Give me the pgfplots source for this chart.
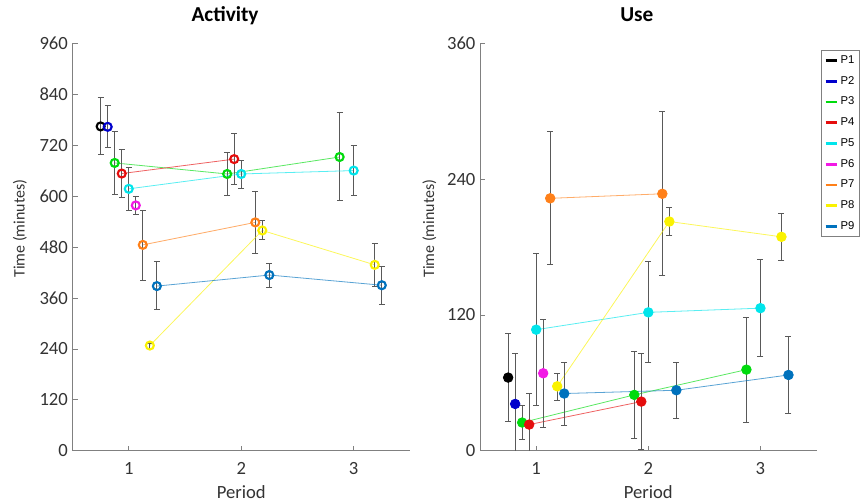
\documentclass[border=0pt]{standalone}
\usepackage{fontspec}
\setmainfont{Carlito}
\newfontfamily\legfont{Liberation Sans}
\usepackage{pgfplots}
\pgfplotsset{compat=1.18}
\definecolor{cP1}{rgb}{0,0,0}
\definecolor{cP2}{rgb}{0,0,0.8}
\definecolor{cP3}{rgb}{0,0.86,0.05}
\definecolor{cP4}{rgb}{0.9,0.05,0.05}
\definecolor{cP5}{rgb}{0,0.9,0.92}
\definecolor{cP6}{rgb}{0.95,0.1,0.9}
\definecolor{cP7}{rgb}{1,0.5,0.1}
\definecolor{cP8}{rgb}{0.98,0.95,0}
\definecolor{cP9}{rgb}{0,0.447,0.741}
\definecolor{axgray}{rgb}{0.5,0.5,0.5}
\definecolor{tkgray}{rgb}{0.2,0.2,0.2}
\definecolor{errgray}{rgb}{0.35,0.35,0.35}
\pgfplotsset{
  panel/.style={
    scale only axis, width=253.5pt, height=306.3pt,
    anchor=south west,
    xmin=0.5, xmax=3.5, ymin=0,
    xtick={1,2,3},
    axis x line*=bottom, axis y line*=left,
    axis line style={draw=axgray, line width=0.6pt, -},
    tick style={draw=axgray, line width=0.6pt},
    major tick length=4pt, tick align=inside,
    ticklabel style={text=tkgray, font=\fontsize{14}{16}\selectfont},
    /pgf/number format/assume math mode=true,
    xticklabel style={anchor=base, yshift=-17.5pt},
    xlabel={Period},
    xlabel style={at={(axis description cs:0.5,-0.116)}, anchor=base, text=tkgray, font=\fontsize{14}{16}\selectfont},
    ylabel={Time (minutes)},
    ylabel style={text=tkgray, font=\fontsize{12}{14}\selectfont},
    title style={font=\fontsize{16}{18}\selectfont\bfseries, anchor=base},
    clip=true,
  },
  ser/.style={color=#1, line width=0.6pt, draw opacity=0.65,
    error bars/.cd, y dir=both, y explicit,
    error bar style={draw=errgray, line width=0.6pt, draw opacity=1},
    error mark options={rotate=90, mark size=2.25pt, draw=errgray, line width=0.6pt, draw opacity=1},
    /pgfplots/.cd},
  open/.style={mark=o, mark size=3pt, mark options={solid, line width=1.6pt, draw opacity=1, draw=#1}},
  full/.style={mark=*, mark size=3.6pt, mark options={solid, draw=#1, fill=#1, draw opacity=1}},
}
\begin{document}
\begin{tikzpicture}
\path (0pt,0pt) rectangle (645pt,375.75pt);
% ---------------- Activity ----------------
\begin{axis}[panel, at={(54.5pt,37pt)},
  ymax=960, ytick={0,120,240,360,480,600,720,840,960},
  title={Activity}, title style={at={(axis description cs:0.452,1.0326)}},
  ylabel style={at={(axis description cs:-0.156,0.545)}, anchor=center},
]
\addplot[ser=cP1, open=cP1] coordinates {(0.75,764) += (0,68) -= (0,67)};
\addplot[ser=cP2, open=cP2] coordinates {(0.8125,763) += (0,50) -= (0,49)};
\addplot[ser=cP3, open=cP3] coordinates {
 (0.875,678) += (0,75) -= (0,73)
 (1.875,652) += (0,51) -= (0,51)
 (2.875,692) += (0,104) -= (0,103)};
\addplot[ser=cP4, open=cP4] coordinates {
 (0.9375,653) += (0,58) -= (0,56)
 (1.9375,687) += (0,60) -= (0,59)};
\addplot[ser=cP5, open=cP5] coordinates {
 (1,617) += (0,51) -= (0,51)
 (2,652) += (0,32) -= (0,34)
 (3,660) += (0,59) -= (0,58)};
\addplot[ser=cP6, open=cP6] coordinates {(1.0625,578) += (0,22) -= (0,22)};
\addplot[ser=cP7, open=cP7] coordinates {
 (1.125,485) += (0,82) -= (0,84)
 (2.125,538) += (0,72) -= (0,74)};
\addplot[ser=cP8, open=cP8] coordinates {
 (1.1875,248) += (0,6) -= (0,6)
 (2.1875,519) += (0,23) -= (0,22)
 (3.1875,438) += (0,51) -= (0,51)};
\addplot[ser=cP9, open=cP9] coordinates {
 (1.25,388) += (0,57) -= (0,56)
 (2.25,414) += (0,28) -= (0,28)
 (3.25,390) += (0,44) -= (0,44)};
\end{axis}
% ---------------- Use ----------------
\begin{axis}[panel, at={(360.75pt,37pt)}, width=252.75pt,
  ymax=360, ytick={0,120,240,360},
  title={Use}, title style={at={(axis description cs:0.466,1.0326)}},
  ylabel style={at={(axis description cs:-0.151,0.545)}, anchor=center},
  legend style={at={(axis description cs:1.014,0.9836)}, anchor=north west,
    draw=axgray, line width=0.5pt, fill=white,
    font=\legfont\fontsize{8.5}{10}\selectfont, row sep=4.2pt,
    inner xsep=2pt, inner ysep=2pt},
  legend cell align=left,
  legend image code/.code={\draw[#1] (0pt,0pt) -- (8.25pt,0pt);},
]
\addlegendimage{cP1, line width=2pt}\addlegendentry{P1}
\addlegendimage{cP2, line width=2pt}\addlegendentry{P2}
\addlegendimage{cP3, line width=2pt}\addlegendentry{P3}
\addlegendimage{cP4, line width=2pt}\addlegendentry{P4}
\addlegendimage{cP5, line width=2pt}\addlegendentry{P5}
\addlegendimage{cP6, line width=2pt}\addlegendentry{P6}
\addlegendimage{cP7, line width=2pt}\addlegendentry{P7}
\addlegendimage{cP8, line width=2pt}\addlegendentry{P8}
\addlegendimage{cP9, line width=2pt}\addlegendentry{P9}
\addplot[ser=cP1, full=cP1, forget plot] coordinates {(0.75,64.7) += (0,39.3) -= (0,39.1)};
\addplot[ser=cP2, full=cP2, forget plot] coordinates {(0.8125,41.4) += (0,45) -= (0,45)};
\addplot[ser=cP3, full=cP3, forget plot] coordinates {
 (0.875,25) += (0,14.7) -= (0,15.3)
 (1.875,49.4) += (0,38.2) -= (0,38.5)
 (2.875,71.7) += (0,46.3) -= (0,46.4)};
\addplot[ser=cP4, full=cP4, forget plot] coordinates {
 (0.9375,23.2) += (0,27.4) -= (0,27.4)
 (1.9375,43.5) += (0,42.3) -= (0,42.5)};
\addplot[ser=cP5, full=cP5, forget plot] coordinates {
 (1,107) += (0,67) -= (0,67.3)
 (2,122.3) += (0,44.7) -= (0,44.1)
 (3,126) += (0,43) -= (0,42.5)};
\addplot[ser=cP6, full=cP6, forget plot] coordinates {(1.0625,68.5) += (0,47.3) -= (0,47.9)};
\addplot[ser=cP7, full=cP7, forget plot] coordinates {
 (1.125,223) += (0,59) -= (0,58.4)
 (2.125,227) += (0,73) -= (0,72.4)};
\addplot[ser=cP8, full=cP8, forget plot] coordinates {
 (1.1875,57) += (0,11.2) -= (0,12.3)
 (2.1875,202.5) += (0,12.9) -= (0,12.5)
 (3.1875,189) += (0,21) -= (0,20.6)};
\addplot[ser=cP9, full=cP9, forget plot] coordinates {
 (1.25,50.6) += (0,27.4) -= (0,28)
 (2.25,53.5) += (0,24.5) -= (0,24.5)
 (3.25,67) += (0,34) -= (0,34)};
\end{axis}
\end{tikzpicture}
\end{document}
